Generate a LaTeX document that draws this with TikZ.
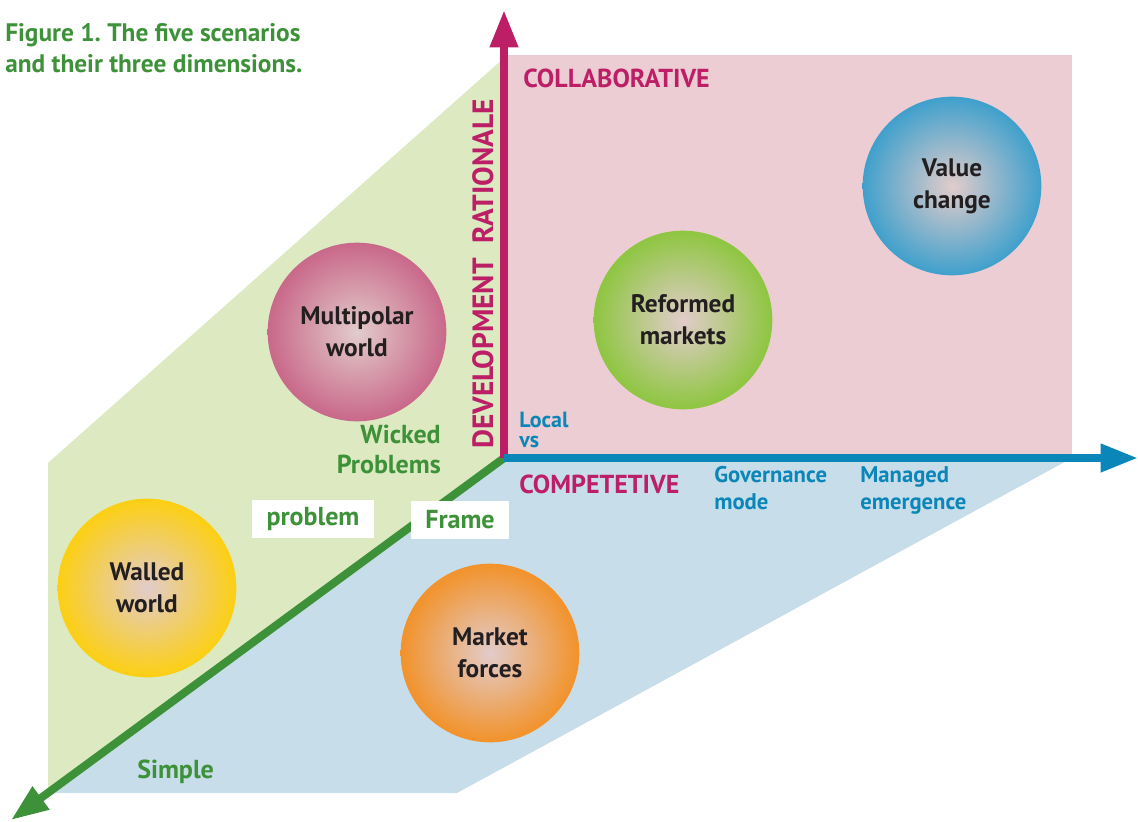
\documentclass[tikz,border=0pt]{standalone}
\usepackage{fontspec}
\setmainfont{PT Sans}
\frenchspacing
\usetikzlibrary{arrows.meta,positioning}
\definecolor{leaf}{HTML}{3D9139}
\definecolor{berry}{HTML}{BD1F67}
\definecolor{sea}{HTML}{0A86B8}
\definecolor{greenplane}{HTML}{DCE9C1}
\definecolor{pinkplane}{HTML}{EBCDD3}
\definecolor{blueplane}{HTML}{C7DDE9}
\definecolor{ink}{HTML}{231F20}
\definecolor{core}{HTML}{E2CCCB}
\definecolor{rosy}{HTML}{C9688A}
\definecolor{lime}{HTML}{8EC640}
\definecolor{sky}{HTML}{3FA0CC}
\definecolor{sun}{HTML}{FCCF12}
\definecolor{tang}{HTML}{F2922A}

\begin{document}
\begin{tikzpicture}[x=0.75pt,y=-0.75pt,
      axis/.style={line width=6pt, -{Triangle[length=28pt,width=20pt]}},
      ball/.style={circle, shade, inner color=core, outer color=#1, minimum size=134pt,
                   inner sep=0pt, align=center, text=ink, font=\bfseries\fontsize{19}{24}\selectfont},
      big/.style={inner sep=0pt, font=\bfseries\fontsize{19.5}{22}\selectfont},
      small/.style={inner sep=0pt, font=\bfseries\fontsize{17}{20}\selectfont, text=sea, align=left},
      tag/.style={fill=white, text=leaf, inner sep=0pt, font=\bfseries\fontsize{19.5}{21}\selectfont}]
      \useasboundingbox (0,0) rectangle (1138,821);
      % the three planes
      \fill [greenplane] (48,463) -- (504,58) -- (504,458) -- (48,793) -- cycle;
      \fill [blueplane] (504,458) -- (1072,458) -- (457,793) -- (48,793) -- cycle;
      \fill [pinkplane] (504,55) rectangle (1072,458);
      % axes
      \coordinate (o) at (504,458);
      \coordinate (up) at (504,10);
      \coordinate (right) at (1138,458);
      \coordinate (down) at (11,820);
      \draw [axis, leaf] (o) -- (down);
      \draw [axis, berry] (o) -- (up);
      \draw [axis, sea] (o) -- (right);
      % scenarios
      \node [ball=rosy] (multi) at (357,332) {Multipolar\\world};
      \node [ball=lime] (reform) at (683,320) {Reformed\\markets};
      \node [ball=sky] (value) at (952,186) {Value\\change};
      \node [ball=sun] (walled) at (147,588) {Walled\\world};
      \node [ball=tang] (market) at (490,653) {Market\\forces};
      % labels (base = last line)
      \node [big, font=\bfseries\fontsize{19}{23}\selectfont, text=leaf, align=left, anchor=base west] (title) at (5,72)
            {Figure 1. The five scenarios\\and their three dimensions.};
      \node [big, text=berry, anchor=base west] (collab) at (523,87) {COLLABORATIVE};
      \node [big, text=berry, anchor=base west] (compet) at (519,493) {COMPETETIVE};
      \node [big, font=\bfseries\fontsize{22}{22}\selectfont, text=berry, rotate=90, anchor=base] (devrat) at (493,274) {DEVELOPMENT\ \ RATIONALE};
      \node [small, font=\bfseries\fontsize{16.5}{15}\selectfont, anchor=base west] (local) at (519,447) {Local\\vs};
      \node [small, anchor=base west] (gov) at (714,509) {Governance\\mode};
      \node [small, anchor=base west] (managed) at (860,509) {Managed\\emergence};
      \node [big, text=leaf, align=right, anchor=base east] (wicked) at (441,473) {Wicked\\Problems};
      \node [big, text=leaf, anchor=base west] (simple) at (137,778) {Simple};
      \node [tag, minimum width=91pt, minimum height=28pt] (problem) at (313,519) {problem};
      \node [tag, minimum width=74pt, minimum height=28pt] (frame) at (460,520) {Frame};
\end{tikzpicture}
\end{document}
